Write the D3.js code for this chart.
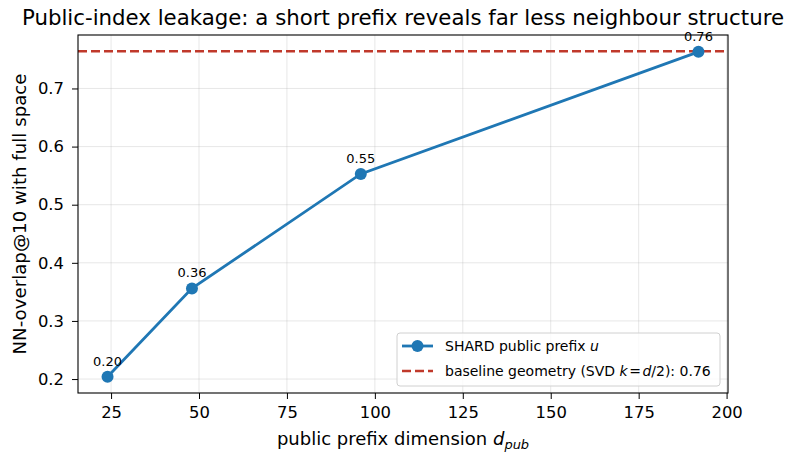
<!DOCTYPE html>
<html>
<head>
<meta charset="utf-8">
<script src="https://cdn.jsdelivr.net/npm/d3@7"></script>
<style>
  body { margin: 0; background: #fff; }
  text { font-family: "DejaVu Sans", sans-serif; fill: #000; }
</style>
</head>
<body>
<main></main>
<script>
// data
const prefixDims = [24, 48, 96, 192];
const overlap = [0.204, 0.356, 0.553, 0.763];
const pointLabels = ["0.20", "0.36", "0.55", "0.76"];
const baselineValue = 0.764;
const xTicks = [25, 50, 75, 100, 125, 150, 175, 200];
const yTicks = [0.2, 0.3, 0.4, 0.5, 0.6, 0.7];

const blue = "#1f77b4";
const red = "#c0392b";

const width = 790, height = 454;
const margin = { top: 35, right: 62, bottom: 61, left: 78 };
const bw = width - margin.left - margin.right;
const bh = height - margin.top - margin.bottom;

const svg = d3.select("main").append("svg")
  .attr("width", width).attr("height", height);

const xScale = d3.scaleLinear().domain([15.6, 200.4]).range([0, bw]);
const yScale = d3.scaleLinear().domain([0.176, 0.792]).range([bh, 0]);

const g = svg.append("g").attr("transform", `translate(${margin.left},${margin.top})`);

// grid
g.append("g").selectAll("line").data(xTicks).join("line")
  .attr("x1", d => xScale(d)).attr("x2", d => xScale(d))
  .attr("y1", 0).attr("y2", bh)
  .attr("stroke", "#b0b0b0").attr("stroke-opacity", 0.35).attr("stroke-width", 0.9);
g.append("g").selectAll("line").data(yTicks).join("line")
  .attr("y1", d => yScale(d)).attr("y2", d => yScale(d))
  .attr("x1", 0).attr("x2", bw)
  .attr("stroke", "#b0b0b0").attr("stroke-opacity", 0.35).attr("stroke-width", 0.9);

// axes
const xAxis = g.append("g").attr("transform", `translate(0,${bh})`)
  .call(d3.axisBottom(xScale).tickValues(xTicks).tickSize(6).tickPadding(7).tickFormat(d3.format("d")));
const yAxis = g.append("g")
  .call(d3.axisLeft(yScale).tickValues(yTicks).tickSize(6).tickPadding(8).tickFormat(d3.format(".1f")));
[xAxis, yAxis].forEach(a => {
  a.select(".domain").remove();
  a.selectAll("line").attr("stroke", "#000").attr("stroke-width", 1);
  a.selectAll("text").style("font-size", "16.4px").style("font-family", "DejaVu Sans");
});

// baseline
g.append("line")
  .attr("x1", 0).attr("x2", bw)
  .attr("y1", yScale(baselineValue)).attr("y2", yScale(baselineValue))
  .attr("stroke", red).attr("stroke-width", 2.4).attr("stroke-dasharray", "9,4");

// series
const pts = prefixDims.map((d, i) => ({ x: d, y: overlap[i], label: pointLabels[i] }));
g.append("path").datum(pts)
  .attr("fill", "none").attr("stroke", blue).attr("stroke-width", 2.8)
  .attr("d", d3.line().x(d => xScale(d.x)).y(d => yScale(d.y)));
g.selectAll("circle.pt").data(pts).join("circle")
  .attr("class", "pt")
  .attr("cx", d => xScale(d.x)).attr("cy", d => yScale(d.y))
  .attr("r", 6).attr("fill", blue);
g.selectAll("text.ann").data(pts).join("text")
  .attr("class", "ann")
  .attr("x", d => xScale(d.x)).attr("y", d => yScale(d.y) - 11)
  .attr("text-anchor", "middle")
  .style("font-size", "13px")
  .text(d => d.label);

// frame
g.append("rect").attr("width", bw).attr("height", bh)
  .attr("fill", "none").attr("stroke", "#000").attr("stroke-width", 1.1);

// title & labels
svg.append("text").attr("x", margin.left + bw / 2).attr("y", 25)
  .attr("text-anchor", "middle").style("font-size", "21.3px")
  .text("Public-index leakage: a short prefix reveals far less neighbour structure");

const xl = svg.append("text").attr("x", margin.left + bw / 2).attr("y", 445)
  .attr("text-anchor", "middle").style("font-size", "18px");
xl.append("tspan").text("public prefix dimension ");
xl.append("tspan").style("font-style", "italic").text("d");
xl.append("tspan").attr("dy", 4).style("font-style", "italic").style("font-size", "13px").text("pub");

svg.append("text")
  .attr("transform", `translate(26,${margin.top + bh / 2}) rotate(-90)`)
  .attr("text-anchor", "middle").style("font-size", "18.2px")
  .text("NN-overlap@10 with full space");

// legend
const lg = svg.append("g").attr("transform", "translate(397,333)");
lg.append("rect").attr("width", 323).attr("height", 53).attr("rx", 3)
  .attr("fill", "#fff").attr("fill-opacity", 0.8).attr("stroke", "#d0d0d0");
lg.append("line").attr("x1", 5).attr("x2", 36).attr("y1", 13).attr("y2", 13)
  .attr("stroke", blue).attr("stroke-width", 2.8);
lg.append("circle").attr("cx", 20.5).attr("cy", 13).attr("r", 6).attr("fill", blue);
const t1 = lg.append("text").attr("x", 48).attr("y", 18).style("font-size", "14px");
t1.append("tspan").text("SHARD public prefix ");
t1.append("tspan").style("font-style", "italic").text("u");
lg.append("line").attr("x1", 5).attr("x2", 36).attr("y1", 38).attr("y2", 38)
  .attr("stroke", red).attr("stroke-width", 2.4).attr("stroke-dasharray", "9,4");
const t2 = lg.append("text").attr("x", 48).attr("y", 43).style("font-size", "14px");
t2.append("tspan").text("baseline geometry (SVD ");
t2.append("tspan").style("font-style", "italic").text("k");
t2.append("tspan").text("=").attr("dx", 1.5);
t2.append("tspan").style("font-style", "italic").attr("dx", 1.5).text("d");
t2.append("tspan").text("/2): 0.76");
</script>
</body>
</html>
